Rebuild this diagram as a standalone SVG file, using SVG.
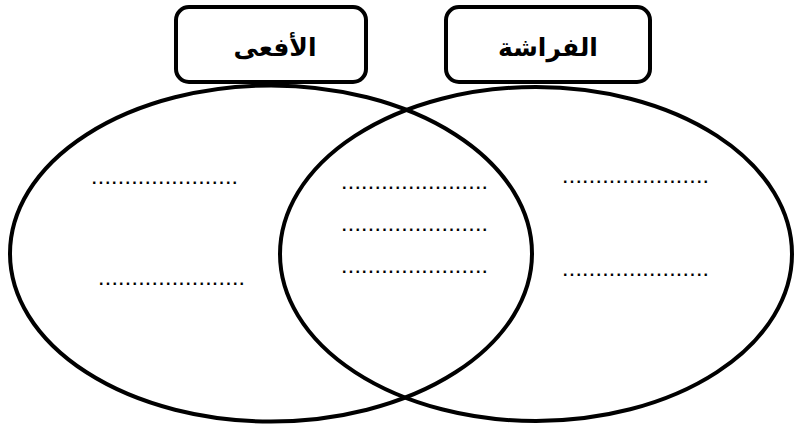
<svg xmlns="http://www.w3.org/2000/svg" width="795" height="426" viewBox="0 0 795 426">
  <style>
    .set { fill: none; stroke: #000; stroke-width: 4; }
    .box { fill: #fff; stroke: #000; stroke-width: 4; }
    .title { font-family: "DejaVu Sans", "Noto Sans", sans-serif; font-weight: bold; font-size: 25px; fill: #000; text-anchor: middle; }
    .dots { font-family: "Liberation Sans", Arial, sans-serif; font-weight: bold; font-size: 16px; letter-spacing: 2.25px; fill: #000; }
  </style>
  <rect width="795" height="426" fill="#fff"/>
  <g id="connectors"></g>
  <g id="set-snake">
    <ellipse class="set" cx="271" cy="253.5" rx="261" ry="168"/>
  </g>
  <g id="set-butterfly">
    <ellipse class="set" cx="536" cy="254" rx="256" ry="167"/>
  </g>
  <g id="label-snake">
    <rect class="box" x="176" y="7" width="190" height="75" rx="13" ry="13"/>
    <text class="title" x="275" y="56">الأفعى</text>
  </g>
  <g id="label-butterfly">
    <rect class="box" x="446" y="7" width="204" height="75" rx="13" ry="13"/>
    <text class="title" x="548" y="56">الفراشة</text>
  </g>
  <g id="lines-snake">
    <text class="dots" x="92" y="184">......................</text>
    <text class="dots" x="99" y="285">......................</text>
  </g>
  <g id="lines-common">
    <text class="dots" x="342" y="189">......................</text>
    <text class="dots" x="342" y="231">......................</text>
    <text class="dots" x="342" y="273">......................</text>
  </g>
  <g id="lines-butterfly">
    <text class="dots" x="563" y="183">......................</text>
    <text class="dots" x="563" y="276">......................</text>
  </g>
</svg>
